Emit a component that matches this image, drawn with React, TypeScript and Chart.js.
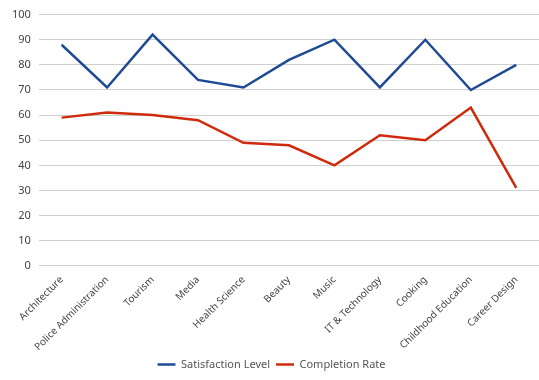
import React, { useEffect, useRef } from "react";
import { Chart, registerables } from "chart.js";

Chart.register(...registerables);

const categories = [
  "Architecture",
  "Police Administration",
  "Tourism",
  "Media",
  "Health Science",
  "Beauty",
  "Music",
  "IT & Technology",
  "Cooking",
  "Childhood Education",
  "Career Design",
];
const satisfaction = [88, 71, 92, 74, 71, 82, 90, 71, 90, 70, 80];
const completion = [59, 61, 60, 58, 49, 48, 40, 52, 50, 63, 31];

const FONT = "'Noto Sans', 'Open Sans', sans-serif";

export default function App() {
  const ref = useRef<HTMLCanvasElement | null>(null);
  useEffect(() => {
    document.body.style.margin = "0";
    const chart = new Chart(ref.current!, {
      type: "line",
      data: {
        labels: categories,
        datasets: [
          {
            label: "Satisfaction Level",
            data: satisfaction,
            borderColor: "#1F4A96",
            backgroundColor: "#1F4A96",
            borderWidth: 2.5,
            pointRadius: 0,
            tension: 0,
          },
          {
            label: "Completion Rate",
            data: completion,
            borderColor: "#D02A0C",
            backgroundColor: "#D02A0C",
            borderWidth: 2.5,
            pointRadius: 0,
            tension: 0,
          },
        ],
      },
      options: {
        animation: false,
        responsive: false,
        layout: { padding: { left: 4, right: 0, top: 1, bottom: 0 } },
        plugins: {
          legend: {
            position: "bottom",
            labels: {
              usePointStyle: true,
              pointStyle: "line",
              pointStyleWidth: 18,
              boxHeight: 2,
              color: "#555",
              font: { family: FONT, size: 11 },
              padding: 6,
            },
          },
          tooltip: { enabled: false },
        },
        scales: {
          x: {
            offset: true,
            grid: { display: false },
            border: { display: false },
            ticks: {
              minRotation: 45,
              maxRotation: 45,
              autoSkip: false,
              color: "#444",
              font: { family: FONT, size: 10 },
              padding: 0,
            },
          },
          y: {
            min: 0,
            max: 100,
            ticks: {
              stepSize: 10,
              color: "#444",
              font: { family: FONT, size: 11 },
              padding: 8,
            },
            grid: { color: "#D0D0D0", drawTicks: false, lineWidth: 1 },
            border: { display: false },
          },
        },
      },
    });
    return () => chart.destroy();
  }, []);
  return (
    <div style={{ width: 539, height: 380 }}>
      <canvas ref={ref} width={539} height={380} />
    </div>
  );
}
